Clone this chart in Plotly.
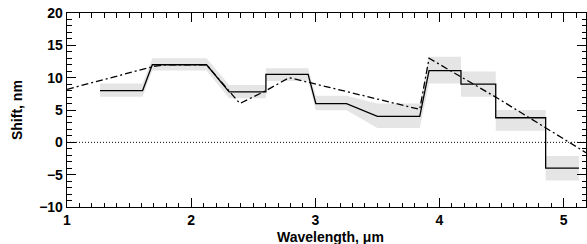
import plotly.graph_objects as go

# Measured step profile (solid line)
step_x = [1.266, 1.609, 1.687, 2.124, 2.306, 2.602, 2.602, 2.942, 3.004, 3.251,
          3.500, 3.841, 3.916, 4.173, 4.173, 4.453, 4.453, 4.855, 4.855, 5.123]
step_y = [8.0, 8.0, 12.0, 12.0, 7.8, 7.8, 10.5, 10.5, 6.0, 6.0,
          4.0, 4.0, 11.1, 11.1, 9.0, 9.0, 3.8, 3.8, -4.0, -4.0]
# Uncertainty band (grey)
band_upper = [9.1, 9.1, 13.0, 13.0, 8.85, 8.85, 11.45, 11.45, 7.2, 7.2,
              6.0, 6.0, 13.25, 13.25, 10.95, 10.95, 5.0, 5.0, -2.1, -2.1]
band_lower = [7.05, 7.05, 11.1, 11.1, 6.8, 6.8, 9.5, 9.5, 4.95, 4.95,
              2.2, 2.2, 9.1, 9.1, 7.05, 7.05, 1.8, 1.8, -5.9, -5.9]
# Model curve (dash-dot)
model_x = [1.0, 1.69, 1.79, 2.124, 2.392, 2.602, 2.79, 3.841, 3.916, 4.453, 5.18]
model_y = [8.2, 11.7, 12.0, 12.0, 6.0, 8.0, 10.0, 5.1, 13.0, 7.0, -1.6]

x_range = [1.0, 5.18]
y_range = [-10, 20]

FONT = "Liberation Sans, Arial, Helvetica, sans-serif"

fig = go.Figure()
fig.add_trace(go.Scatter(
    x=step_x + step_x[::-1], y=band_upper + band_lower[::-1],
    fill="toself", fillcolor="#e5e5e5", line=dict(width=0),
    mode="lines", hoverinfo="skip", showlegend=False))
fig.add_trace(go.Scatter(
    x=x_range, y=[0, 0], mode="lines",
    line=dict(color="black", width=1, dash="1px,2px"), showlegend=False))
fig.add_trace(go.Scatter(
    x=step_x, y=step_y, mode="lines",
    line=dict(color="black", width=1.3), showlegend=False))
fig.add_trace(go.Scatter(
    x=model_x, y=model_y, mode="lines",
    line=dict(color="black", width=1.3, dash="7px,3px,2px,3px"), showlegend=False))

axis_common = dict(
    showgrid=False, zeroline=False, showline=True, linecolor="black", linewidth=1.3,
    mirror="allticks", ticks="inside", ticklen=9, tickwidth=1, tickcolor="black",
    automargin=False,
    tickfont=dict(family=FONT, size=14, color="black", weight="bold"),
)
fig.update_xaxes(range=x_range, tick0=1, dtick=1,
                 minor=dict(dtick=0.1, ticks="inside", ticklen=4.5, tickwidth=1, tickcolor="black"),
                 **axis_common)
fig.update_yaxes(range=y_range, tick0=0, dtick=5,
                 minor=dict(dtick=1, ticks="inside", ticklen=4.5, tickwidth=1, tickcolor="black"),
                 **axis_common)

fig.add_annotation(text="Wavelength, \u03bcm", xref="paper", yref="paper",
                   x=0.507, y=-0.155, xanchor="center", yanchor="middle", showarrow=False,
                   font=dict(family=FONT, size=14, color="black", weight="bold"))
fig.add_annotation(text="Shift, nm", xref="paper", yref="paper", textangle=-90,
                   x=-0.0963, y=0.5, xanchor="center", yanchor="middle", showarrow=False,
                   font=dict(family=FONT, size=14, color="black", weight="bold"))

fig.update_layout(
    template="none",
    width=587, height=244,
    margin=dict(l=67, r=1, t=13, b=37, autoexpand=False),
    paper_bgcolor="white", plot_bgcolor="white",
    showlegend=False,
)
fig.write_html("out.html",
               config={"displayModeBar": False, "staticPlot": True},
               post_script="document.body.style.margin='0';document.body.style.padding='0';")
